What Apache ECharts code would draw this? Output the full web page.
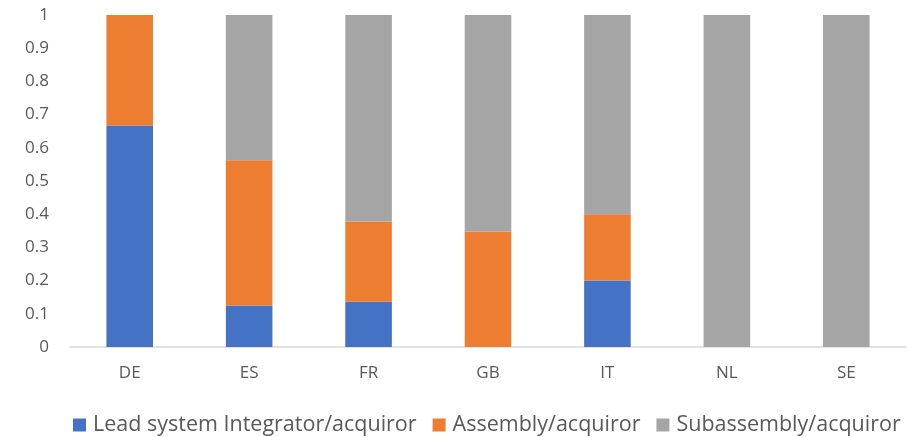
<!DOCTYPE html>
<html>
<head>
<meta charset="utf-8">
<script src="https://cdn.jsdelivr.net/npm/echarts@6/dist/echarts.min.js"></script>
<style>
  html, body { margin: 0; padding: 0; background: #fff; }
  #chart { width: 908px; height: 437px; }
</style>
</head>
<body>
<div id="chart"></div>
<script>
// categories (countries)
const countries = ["DE", "ES", "FR", "GB", "IT", "NL", "SE"];

// shares per role
const leadIntegrator = [0.667, 0.125, 0.136, 0, 0.2, 0, 0];
const assembly = [0.333, 0.4375, 0.242, 0.348, 0.2, 0, 0];
const subassembly = [0, 0.4375, 0.622, 0.652, 0.6, 1, 1];

const seriesNames = [
  "Lead system Integrator/acquiror",
  "Assembly/acquiror",
  "Subassembly/acquiror",
];
const colors = ["#4472c4", "#ed7d31", "#a5a5a5"];

const chart = echarts.init(document.getElementById("chart"));

const labelFont = "'Open Sans', sans-serif";

const makeBar = (name, values, color) => ({
  name: name,
  type: "bar",
  stack: "total",
  barCategoryGap: "61%",
  itemStyle: { color: color },
  emphasis: { disabled: true },
  data: values,
});

chart.setOption({
  animation: false,
  textStyle: { fontFamily: labelFont },
  grid: {
    left: 70,
    right: 2,
    top: 15,
    bottom: 90,
  },
  xAxis: {
    type: "category",
    data: countries,
    axisLine: { lineStyle: { color: "#d9d9d9", width: 1.5 } },
    axisTick: { show: false },
    axisLabel: {
      color: "#595959",
      fontSize: 17,
      margin: 18,
      fontFamily: labelFont,
    },
  },
  yAxis: {
    type: "value",
    min: 0,
    max: 1,
    interval: 0.1,
    splitLine: { show: false },
    axisLine: { show: false },
    axisTick: { show: false },
    axisLabel: {
      color: "#595959",
      fontSize: 17,
      margin: 21,
      fontFamily: labelFont,
      formatter: (v) => String(Math.round(v * 10) / 10),
    },
  },
  legend: {
    top: 409,
    left: 68,
    icon: "rect",
    itemWidth: 13,
    itemHeight: 13,
    itemGap: 16,
    textStyle: {
      color: "#595959",
      fontSize: 21.5,
      fontFamily: labelFont,
      padding: [0, 0, 0, 2],
    },
    data: seriesNames,
  },
  series: [
    makeBar(seriesNames[0], leadIntegrator, colors[0]),
    makeBar(seriesNames[1], assembly, colors[1]),
    makeBar(seriesNames[2], subassembly, colors[2]),
  ],
});
</script>
</body>
</html>
